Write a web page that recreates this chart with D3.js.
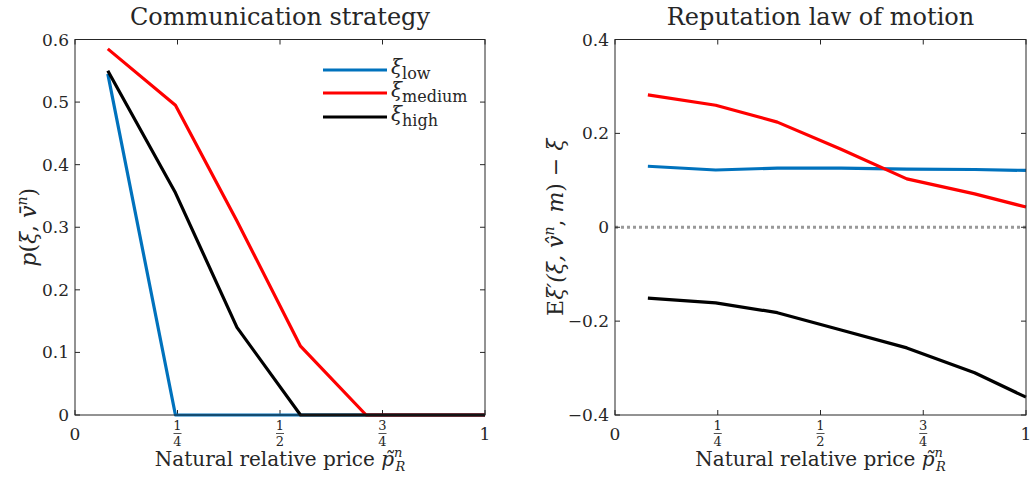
<!DOCTYPE html>
<html>
<head>
<meta charset="utf-8">
<script src="https://cdn.jsdelivr.net/npm/d3@7"></script>
<style>
  body { margin: 0; background: #fff; }
  text { font-family: "DejaVu Serif", "Liberation Serif", serif; fill: #262626; }
</style>
</head>
<body>
<div id="chart"></div>
<script>
// grid of natural relative prices
const prices = [0.08, 0.245, 0.395, 0.55, 0.71, 0.875, 1.0];

// Communication strategy p(xi, v)
const pLow = [0.545, 0, 0, 0, 0, 0, 0];
const pMedium = [0.585, 0.495, 0.31, 0.11, 0, 0, 0];
const pHigh = [0.55, 0.355, 0.14, 0, 0, 0, 0];

// Reputation law of motion
const rLow = [0.13, 0.122, 0.126, 0.126, 0.124, 0.123, 0.121];
const rMedium = [0.282, 0.26, 0.224, 0.166, 0.103, 0.071, 0.043];
const rHigh = [-0.151, -0.161, -0.182, -0.219, -0.257, -0.31, -0.362];

const leftTicks = [0, 0.1, 0.2, 0.3, 0.4, 0.5, 0.6];
const rightTicks = [-0.4, -0.2, 0, 0.2, 0.4];
const xTicks = [
    { v: 0, num: "0" },
    { v: 0.25, num: "1", den: "4" },
    { v: 0.5, num: "1", den: "2" },
    { v: 0.75, num: "3", den: "4" },
    { v: 1, num: "1" }
];

const colors = { low: "#0072BD", medium: "#FF0000", high: "#000000" };

const width = 1034, height = 480;
const svg = d3.select("#chart").append("svg")
    .attr("width", width)
    .attr("height", height);

// Function to draw one panel
function drawPanel(opts) {
    const x = d3.scaleLinear().domain([0, 1]).range([opts.left, opts.right]);
    const y = d3.scaleLinear().domain(opts.yDomain).range([415, 39.5]);
    const g = svg.append("g");

    // zero reference line
    if (opts.zeroLine) {
        g.append("line")
            .attr("x1", x(0)).attr("x2", x(1))
            .attr("y1", y(0)).attr("y2", y(0))
            .attr("stroke", "#999")
            .attr("stroke-width", 3)
            .attr("stroke-dasharray", "3,3");
    }

    // ticks on all four sides, pointing inward
    const tickLen = 5;
    opts.yTicks.forEach(t => {
        g.append("line").attr("x1", x(0)).attr("x2", x(0) + tickLen)
            .attr("y1", y(t)).attr("y2", y(t)).attr("stroke", "#262626");
        g.append("line").attr("x1", x(1)).attr("x2", x(1) - tickLen)
            .attr("y1", y(t)).attr("y2", y(t)).attr("stroke", "#262626");
        g.append("text")
            .attr("x", x(0) - 6).attr("y", y(t) + 6)
            .attr("text-anchor", "end")
            .attr("font-size", 17)
            .text(t === 0 ? "0" : d3.format("")(t));
    });
    xTicks.forEach(t => {
        g.append("line").attr("x1", x(t.v)).attr("x2", x(t.v))
            .attr("y1", y.range()[0]).attr("y2", y.range()[0] - tickLen).attr("stroke", "#262626");
        g.append("line").attr("x1", x(t.v)).attr("x2", x(t.v))
            .attr("y1", y.range()[1]).attr("y2", y.range()[1] + tickLen).attr("stroke", "#262626");
        if (t.den) {
            g.append("text").attr("x", x(t.v)).attr("y", 430)
                .attr("text-anchor", "middle").attr("font-size", 13).text(t.num);
            g.append("line").attr("x1", x(t.v) - 4).attr("x2", x(t.v) + 4)
                .attr("y1", 433.5).attr("y2", 433.5).attr("stroke", "#262626").attr("stroke-width", 0.8);
            g.append("text").attr("x", x(t.v)).attr("y", 446)
                .attr("text-anchor", "middle").attr("font-size", 13).text(t.den);
        } else {
            g.append("text").attr("x", x(t.v)).attr("y", 440)
                .attr("text-anchor", "middle").attr("font-size", 17).text(t.num);
        }
    });

    // Adding lines
    const line = d3.line()
        .x((d, i) => x(prices[i]))
        .y(d => y(d));
    opts.series.forEach(s => {
        g.append("path")
            .datum(s.values)
            .attr("fill", "none")
            .attr("stroke", s.color)
            .attr("stroke-width", 3.2)
            .attr("stroke-linejoin", "round")
            .attr("d", line);
    });

    // box
    g.append("rect")
        .attr("x", x(0)).attr("y", y.range()[1])
        .attr("width", x(1) - x(0)).attr("height", y.range()[0] - y.range()[1])
        .attr("fill", "none").attr("stroke", "#262626").attr("stroke-width", 1);

    // title
    g.append("text")
        .attr("x", (x(0) + x(1)) / 2).attr("y", 25)
        .attr("text-anchor", "middle").attr("font-size", 24)
        .attr("fill", "#000")
        .text(opts.title);

    // x label
    const xl = g.append("text")
        .attr("x", (x(0) + x(1)) / 2).attr("y", 466)
        .attr("text-anchor", "middle").attr("font-size", 20);
    xl.append("tspan").text("Natural relative price ");
    xl.append("tspan").attr("font-style", "italic").text("p\u0303");
    xl.append("tspan").attr("font-size", 13).attr("font-style", "italic").attr("dy", -9).text("n");
    xl.append("tspan").attr("font-size", 13).attr("font-style", "italic").attr("dx", -7).attr("dy", 14).text("R");

    // y label
    const cy = (y.range()[0] + y.range()[1]) / 2;
    const yl = g.append("text")
        .attr("transform", `translate(${opts.yLabelX},${cy}) rotate(-90)`)
        .attr("text-anchor", "middle").attr("font-size", 22);
    opts.yLabel(yl);

    return { x, y, g };
}

drawPanel({
    left: 75, right: 485, yDomain: [0, 0.6], yTicks: leftTicks,
    title: "Communication strategy",
    yLabelX: 36,
    yLabel: t => {
        t.append("tspan").attr("font-style", "italic").text("p");
        t.append("tspan").text("(");
        t.append("tspan").attr("font-style", "italic").text("\u03BE");
        t.append("tspan").text(", ");
        t.append("tspan").attr("font-style", "italic").text("v\u0304");
        t.append("tspan").attr("font-style", "italic").attr("font-size", 14).attr("dy", -9).text("n");
        t.append("tspan").attr("dy", 9).text(")");
    },
    series: [
        { values: pLow, color: colors.low },
        { values: pMedium, color: colors.medium },
        { values: pHigh, color: colors.high }
    ]
});

drawPanel({
    left: 615, right: 1026, yDomain: [-0.4, 0.4], yTicks: rightTicks,
    title: "Reputation law of motion",
    zeroLine: true,
    yLabelX: 563,
    yLabel: t => {
        t.append("tspan").text("E");
        t.append("tspan").attr("font-style", "italic").text("\u03BE\u2032(\u03BE, ");
        t.append("tspan").attr("font-style", "italic").text("v\u0302");
        t.append("tspan").attr("font-style", "italic").attr("font-size", 14).attr("dy", -9).text("n");
        t.append("tspan").attr("dy", 9).text(", ");
        t.append("tspan").attr("font-style", "italic").text("m");
        t.append("tspan").text(") \u2212 ");
        t.append("tspan").attr("font-style", "italic").text("\u03BE");
    },
    series: [
        { values: rLow, color: colors.low },
        { values: rMedium, color: colors.medium },
        { values: rHigh, color: colors.high }
    ]
});

// Legend
const legendItems = [
    { name: "low", color: colors.low, y: 70 },
    { name: "medium", color: colors.medium, y: 93 },
    { name: "high", color: colors.high, y: 117 }
];
const legend = svg.append("g");
legendItems.forEach(d => {
    legend.append("line")
        .attr("x1", 323).attr("x2", 387)
        .attr("y1", d.y).attr("y2", d.y)
        .attr("stroke", d.color).attr("stroke-width", 3.2);
    const t = legend.append("text")
        .attr("x", 391).attr("y", d.y + 4)
        .attr("font-size", 20).attr("fill", "#000");
    t.append("tspan").attr("font-style", "italic").text("\u03BE");
    t.append("tspan").attr("font-size", 16).attr("dy", 5).text(d.name);
});
</script>
</body>
</html>
